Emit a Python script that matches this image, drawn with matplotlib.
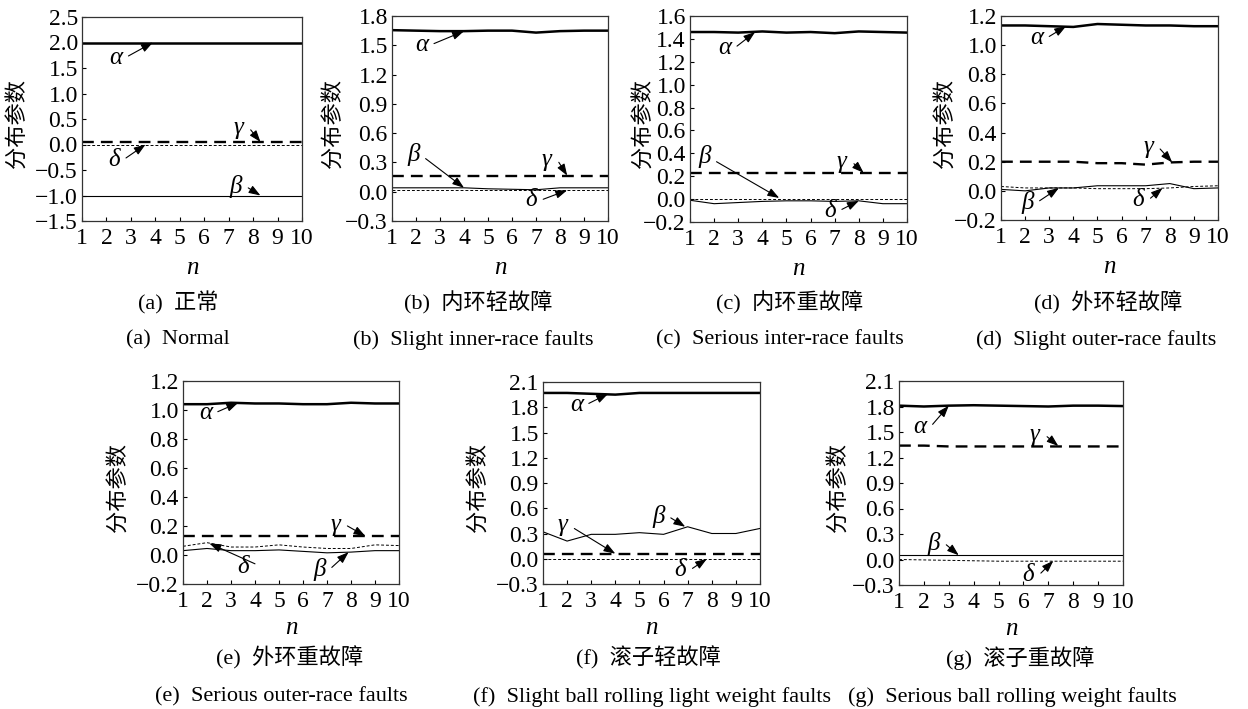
import matplotlib
matplotlib.use("Agg")
import matplotlib.pyplot as plt
import numpy as np

plt.rcParams['font.family'] = ['Liberation Serif', 'Noto Sans CJK SC', 'DejaVu Sans']
plt.rcParams['mathtext.fontset'] = 'stix'

n = list(range(1, 11))

# ---- data per panel ----
alpha_a = [2.0] * 10
beta_a = [-1.0] * 10
gamma_a = [0.05] * 10
delta_a = [0.0] * 10

alpha_b = [1.655, 1.65, 1.645, 1.645, 1.65, 1.65, 1.63, 1.645, 1.65, 1.65]
beta_b = [0.04, 0.04, 0.04, 0.04, 0.03, 0.025, 0.02, 0.04, 0.04, 0.04]
gamma_b = [0.165] * 10
delta_b = [0.015] * 10

alpha_c = [1.46, 1.46, 1.455, 1.465, 1.455, 1.46, 1.45, 1.465, 1.46, 1.455]
beta_c = [-0.01, -0.04, -0.03, -0.02, -0.015, -0.015, -0.02, -0.015, -0.04, -0.04]
gamma_c = [0.23] * 10
delta_c = [0.005] * 10

alpha_d = [1.135, 1.135, 1.13, 1.125, 1.145, 1.14, 1.135, 1.135, 1.13, 1.13]
beta_d = [0.01, 0.0, 0.02, 0.02, 0.035, 0.035, 0.035, 0.05, 0.015, 0.02]
gamma_d = [0.2, 0.2, 0.2, 0.2, 0.19, 0.19, 0.18, 0.195, 0.2, 0.2]
delta_d = [0.03, 0.02, 0.02, 0.02, 0.015, 0.015, 0.015, 0.02, 0.03, 0.035]

alpha_e = [1.04, 1.04, 1.05, 1.045, 1.045, 1.04, 1.04, 1.05, 1.045, 1.045]
beta_e = [0.03, 0.045, 0.03, 0.03, 0.035, 0.025, 0.015, 0.02, 0.03, 0.03]
gamma_e = [0.13] * 10
delta_e = [0.06, 0.085, 0.055, 0.055, 0.07, 0.055, 0.045, 0.045, 0.07, 0.065]

alpha_f = [1.97, 1.97, 1.96, 1.95, 1.97, 1.97, 1.97, 1.97, 1.97, 1.97]
beta_f = [0.32, 0.21, 0.29, 0.29, 0.31, 0.29, 0.38, 0.30, 0.30, 0.36]
gamma_f = [0.06] * 10
delta_f = [0.0] * 10

alpha_g = [1.81, 1.80, 1.81, 1.815, 1.81, 1.805, 1.80, 1.81, 1.81, 1.805]
beta_g = [0.05, 0.05, 0.05, 0.05, 0.05, 0.05, 0.05, 0.05, 0.05, 0.05]
gamma_g = [1.34, 1.34, 1.33, 1.33, 1.33, 1.33, 1.33, 1.33, 1.33, 1.33]
delta_g = [0.0, -0.005, -0.01, -0.015, -0.02, -0.02, -0.02, -0.02, -0.02, -0.02]

ylims = {
    'a': (-1.5, 2.5, 0.5), 'b': (-0.3, 1.8, 0.3), 'c': (-0.2, 1.6, 0.2),
    'd': (-0.2, 1.2, 0.2), 'e': (-0.2, 1.2, 0.2), 'f': (-0.3, 2.1, 0.3),
    'g': (-0.3, 2.1, 0.3),
}

captions_cn = {
    'a': '(a)  正常', 'b': '(b)  内环轻故障', 'c': '(c)  内环重故障',
    'd': '(d)  外环轻故障', 'e': '(e)  外环重故障', 'f': '(f)  滚子轻故障',
    'g': '(g)  滚子重故障',
}
captions_en = {
    'a': '(a)  Normal', 'b': '(b)  Slight inner-race faults',
    'c': '(c)  Serious inter-race faults', 'd': '(d)  Slight outer-race faults',
    'e': '(e)  Serious outer-race faults',
    'f': '(f)  Slight ball rolling light weight faults',
    'g': '(g)  Serious ball rolling weight faults',
}

series = {
    'a': (alpha_a, beta_a, gamma_a, delta_a),
    'b': (alpha_b, beta_b, gamma_b, delta_b),
    'c': (alpha_c, beta_c, gamma_c, delta_c),
    'd': (alpha_d, beta_d, gamma_d, delta_d),
    'e': (alpha_e, beta_e, gamma_e, delta_e),
    'f': (alpha_f, beta_f, gamma_f, delta_f),
    'g': (alpha_g, beta_g, gamma_g, delta_g),
}

# annotation: (label, text xy, arrow target xy)
annots = {
    'a': [('α', (2.4, 1.70), (3.9, 2.0)), ('γ', (7.4, 0.32), (8.3, 0.05)),
          ('δ', (2.3, -0.30), (3.6, 0.0)), ('β', (7.3, -0.83), (8.3, -1.0))],
    'b': [('α', (2.25, 1.50), (4.0, 1.645)), ('β', (1.9, 0.38), (4.0, 0.04)),
          ('γ', (7.45, 0.32), (8.3, 0.165)), ('δ', (6.8, -0.09), (8.3, 0.015))],
    'c': [('α', (2.45, 1.32), (3.7, 1.46)), ('β', (1.6, 0.37), (4.7, 0.01)),
          ('γ', (7.3, 0.32), (8.2, 0.23)), ('δ', (6.8, -0.10), (8.0, -0.015))],
    'd': [('α', (2.5, 1.05), (3.7, 1.13)), ('γ', (7.1, 0.30), (8.1, 0.195)),
          ('β', (2.1, -0.08), (3.4, 0.02)), ('δ', (6.7, -0.06), (7.7, 0.02))],
    'e': [('α', (1.95, 0.98), (3.3, 1.05)), ('γ', (7.35, 0.21), (8.6, 0.13)),
          ('δ', (3.5, -0.08), (2.1, 0.08)), ('β', (6.7, -0.10), (7.9, 0.02))],
    'f': [('α', (2.4, 1.83), (3.7, 1.96)), ('γ', (1.8, 0.40), (4.0, 0.06)),
          ('β', (5.8, 0.50), (6.9, 0.38)), ('δ', (6.7, -0.13), (7.8, 0.0))],
    'g': [('α', (1.85, 1.56), (3.0, 1.81)), ('γ', (6.45, 1.46), (7.4, 1.335)),
          ('β', (2.4, 0.19), (3.4, 0.05)), ('δ', (6.2, -0.18), (7.2, -0.015))],
}

W, H = 1248, 709
# axes boxes in pixels: left, right, top, bottom
boxes = {
    'a': (82, 302, 17, 221), 'b': (392, 608, 16, 221), 'c': (690, 907, 16, 222),
    'd': (1001, 1218, 16, 220), 'e': (183, 399, 381, 584), 'f': (543, 760, 382, 584),
    'g': (899, 1123, 381, 585),
}
ylabel_x = {'a': 17, 'b': 333, 'c': 643, 'd': 945, 'e': 118, 'f': 478, 'g': 838}
cap_x_cn = {'a': 178, 'b': 478, 'c': 790, 'd': 1108, 'e': 290, 'f': 648, 'g': 1020}
cap_x_en = {'a': 178, 'b': 473, 'c': 780, 'd': 1096, 'e': 281, 'f': 652, 'g': 1012}

fig = plt.figure(figsize=(W / 100, H / 100), dpi=100)
fig.patch.set_facecolor('white')

cn_font = ['Noto Sans CJK SC', 'DejaVu Sans']
mix_font = ['Liberation Serif', 'Noto Sans CJK SC']

for key in 'abcdefg':
    l, r, t, b = boxes[key]
    ax = fig.add_axes([l / W, 1 - b / H, (r - l) / W, (b - t) / H])
    al, be, ga, de = series[key]
    ax.plot(n, al, color='black', lw=1.8, solid_joinstyle='round')
    ax.plot(n, ga, color='black', lw=1.7, dashes=(5, 3))
    ax.plot(n, be, color='black', lw=0.8)
    ax.plot(n, de, color='black', lw=0.7, dashes=(3, 2))
    y0, y1, st = ylims[key]
    ax.set_xlim(1, 10)
    ax.set_ylim(y0, y1)
    ax.set_xticks(n)
    ticks = np.round(np.arange(y0, y1 + st / 2, st), 2)
    ax.set_yticks(ticks)
    ax.set_yticklabels([f'{v:.1f}'.replace('-', '\u2212') for v in ticks])
    ax.tick_params(direction='in', length=3, width=0.8, labelsize=17, pad=3,
                   colors='black')
    ax.tick_params(axis='x', pad=5)
    for lab in ax.get_xticklabels() + ax.get_yticklabels():
        lab.set_fontfamily('Liberation Serif')
    for sp in ax.spines.values():
        sp.set_linewidth(0.9)
        sp.set_color('#333333')
    for lab, txy, axy in annots[key]:
        ax.annotate('', xy=axy, xytext=(txy[0] + 0.5, txy[1] + (axy[1] - txy[1]) * 0.12),
                    arrowprops=dict(arrowstyle='-|>,head_length=0.7,head_width=0.25',
                                    color='black', lw=0.8, shrinkA=0, shrinkB=0))
        ax.text(txy[0], txy[1], lab, fontsize=18, style='italic',
                family='Liberation Serif', ha='center', va='center')
    # labels
    cx = (l + r) / 2
    ny = b + 47 if key in 'abcd' else b + 44
    fig.text(cx / W, 1 - ny / H, 'n', fontsize=18, style='italic',
             family='Liberation Serif', ha='center', va='center')
    fig.text(ylabel_x[key] / W, 1 - ((t + b) / 2 + 5) / H, '分布参数', fontsize=16,
             family=cn_font, rotation=90, ha='center', va='center')
    cy_cn = 303 if key in 'abcd' else 658
    cy_en = 340 if key in 'abcd' else 697
    fig.text(cap_x_cn[key] / W, 1 - cy_cn / H, captions_cn[key], fontsize=16,
             family=mix_font, ha='center', va='center')
    fig.text(cap_x_en[key] / W, 1 - cy_en / H, captions_en[key], fontsize=16,
             family='Liberation Serif', ha='center', va='center')

fig.savefig('out.png', dpi=100, facecolor='white')
